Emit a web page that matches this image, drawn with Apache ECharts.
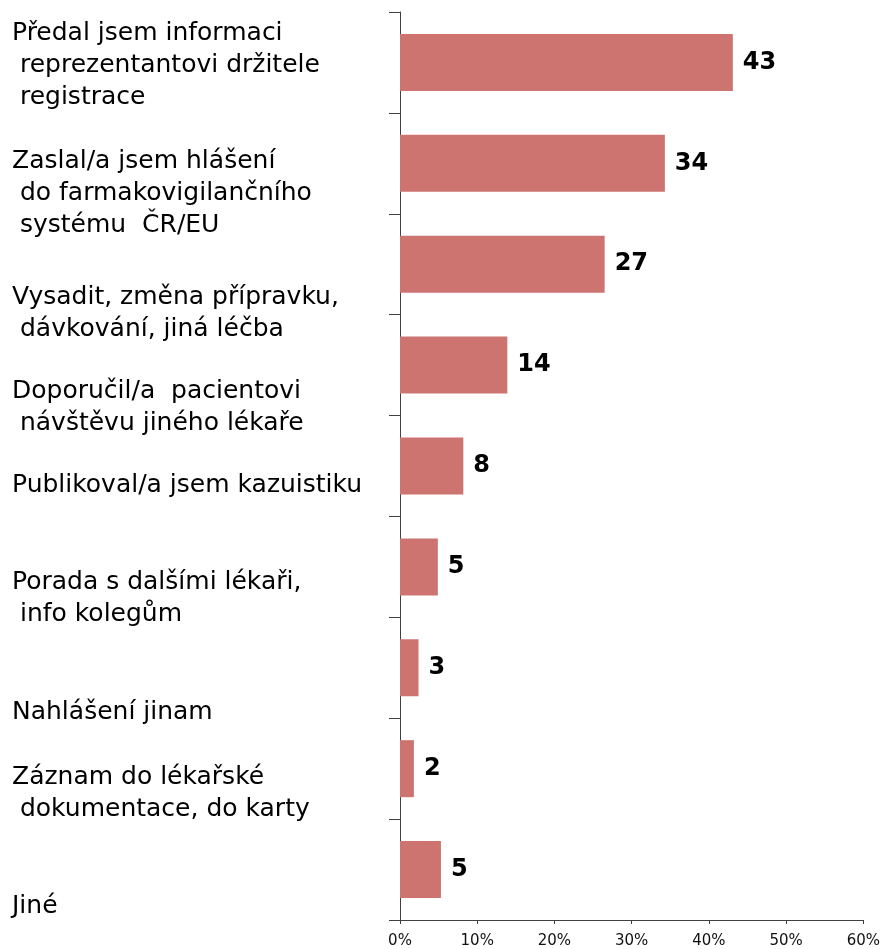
<!DOCTYPE html>
<html>
<head>
<meta charset="utf-8">
<script src="https://cdn.jsdelivr.net/npm/echarts@6/dist/echarts.min.js"></script>
<style>
  html, body { margin: 0; padding: 0; background: #fff; }
  #main { width: 883px; height: 949px; }
</style>
</head>
<body>
<div id="main"></div>
<script>
// kategorie (řádky popisků jako v originále)
var categories = [
  'Předal jsem informaci\n reprezentantovi držitele\n registrace',
  'Zaslal/a jsem hlášení\n do farmakovigilančního\n systému  ČR/EU',
  'Vysadit, změna přípravku,\n dávkování, jiná léčba',
  'Doporučil/a  pacientovi\n návštěvu jiného lékaře',
  'Publikoval/a jsem kazuistiku',
  'Porada s dalšími lékaři,\n info kolegům',
  'Nahlášení jinam',
  'Záznam do lékařské\n dokumentace, do karty',
  'Jiné'
];
// délka sloupců v %
var shares = [43.1, 34.3, 26.5, 13.9, 8.2, 4.9, 2.4, 1.8, 5.3];
// hodnoty u sloupců
var counts = [43, 34, 27, 14, 8, 5, 3, 2, 5];
var xTicks = [0, 10, 20, 30, 40, 50, 60];

// posun popisků dolů (px), jako v původním grafu
var labelShift = [3, 30, 49, 42, 19, 32, 45, 25, 37];

var FONT = 'DejaVu Sans, Verdana, sans-serif';

var rich = {
  t: { fontSize: 25, lineHeight: 32, color: '#000', fontFamily: FONT }
};
labelShift.forEach(function (d, i) {
  rich['g' + i] = { fontSize: 1, lineHeight: Math.max(1, d * 2) };
});

var myChart = echarts.init(document.getElementById('main'));
var option = {
  animation: false,
  backgroundColor: '#fff',
  grid: { left: 400, right: 19, top: 12, bottom: 29, containLabel: false },
  xAxis: {
    type: 'value',
    min: xTicks[0],
    max: xTicks[xTicks.length - 1],
    interval: 10,
    axisLine: { show: true, lineStyle: { color: '#404040', width: 1 } },
    axisTick: { show: true, length: 4, lineStyle: { color: '#404040' } },
    splitLine: { show: false },
    axisLabel: {
      formatter: '{value}%',
      fontSize: 15,
      color: '#111',
      fontFamily: FONT,
      margin: 14
    }
  },
  yAxis: {
    type: 'category',
    inverse: true,
    data: categories,
    axisLine: { show: true, lineStyle: { color: '#404040', width: 1 } },
    axisTick: { show: true, length: 11, lineStyle: { color: '#404040' } },
    axisLabel: {
      interval: 0,
      align: 'left',
      margin: 388,
      rich: rich,
      formatter: function (value, idx) {
        var lines = value.split('\n').map(function (l) { return '{t|' + l + '}'; });
        return '{g' + idx + '| }\n' + lines.join('\n');
      }
    }
  },
  series: [{
    name: 'Podíl',
    type: 'bar',
    data: shares,
    barCategoryGap: '43.5%',
    itemStyle: { color: '#cd7370' },
    label: {
      show: true,
      position: 'right',
      distance: 10,
      fontSize: 24,
      fontWeight: 'bold',
      color: '#000',
      fontFamily: FONT,
      formatter: function (p) { return counts[p.dataIndex]; }
    }
  }]
};
myChart.setOption(option);
</script>
</body>
</html>
